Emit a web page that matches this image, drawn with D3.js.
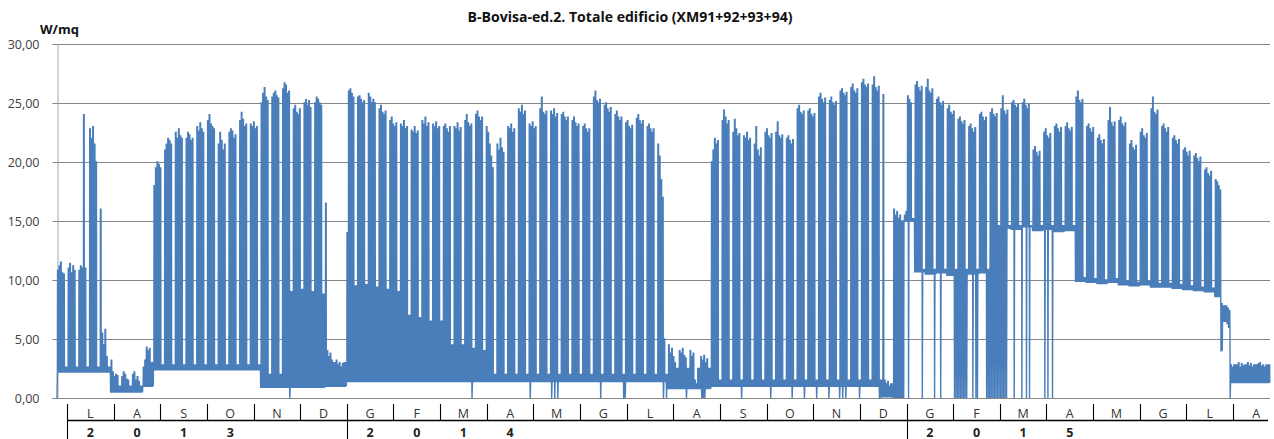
<!DOCTYPE html>
<html><head><meta charset="utf-8">
<script src="https://cdn.jsdelivr.net/npm/d3@7"></script>
<style>body{margin:0;background:#fff;}svg{display:block;}</style>
</head><body>
<svg id="c" width="1274" height="439"></svg>
<script>
// ---------------- data ----------------
const title = "B-Bovisa-ed.2. Totale edificio (XM91+92+93+94)";
const unitLabel = "W/mq";
const yTicks = [0, 5, 10, 15, 20, 25, 30];
const monthLabels = ["L","A","S","O","N","D","G","F","M","A","M","G","L","A","S","O","N","D","G","F","M","A","M","G","L","A"];
const yearLabels = ["2013", "2014", "2015"];
const yearStartMonth = [0, 6, 18];
const firstMonday = "2013-06-24";
const lastDate = "2015-08-25";

// weekday (Mon..Fri) peaks, one row per week starting firstMonday
const weekPeaks = [
[10.8,11.2,11.5,10.6,10.5],[11.0,11.4,10.6,11.2,10.8],[10.8,11.2,11.0,24.0,11.0],[22.8,22.0,23.0,21.5,20.0],
[16.0,5.5,4.5,5.8,3.5],[3.2,2.2,1.8,2.0,1.9],[1.8,2.2,2.0,1.6,1.5],[2.0,2.2,1.5,1.8,1.4],
[2.6,3.2,4.3,4.0,4.2],[18.0,19.5,20.0,19.8,19.5],[21.0,21.5,22.0,21.8,21.5],[22.5,22.0,22.8,22.2,22.0],
[22.0,22.5,22.3,21.8,22.0],[23.0,22.6,23.3,22.8,22.5],[23.5,24.0,23.2,23.0,22.8],[21.5,22.5,21.8,21.0,21.5],
[22.5,22.8,22.6,22.0,22.3],[23.5,24.2,23.6,23.0,23.2],[23.2,23.0,23.4,22.8,23.0],[25.0,25.8,26.3,25.5,25.2],
[25.5,25.8,26.0,25.6,25.4],[26.2,26.7,26.5,25.8,26.0],[24.5,24.8,24.2,24.0,24.5],[25.0,25.3,24.8,25.2,24.6],
[25.0,25.5,25.3,25.0,24.8],[16.5,4.0,3.5,3.8,3.2],[3.2,2.8,3.0,2.6,2.9],[14.0,26.0,26.2,25.8,25.5],
[25.5,25.6,25.3,25.0,25.2],[25.8,25.5,25.0,25.3,25.0],[24.5,24.8,24.2,24.0,24.3],[23.5,23.8,23.2,23.0,23.3],
[23.2,23.0,23.5,22.8,23.0],[22.7,22.5,23.0,22.4,22.6],[23.5,23.2,23.8,23.0,23.3],[23.2,23.0,23.4,22.8,23.0],
[23.0,23.2,22.8,22.5,23.0],[23.0,22.8,23.3,22.6,22.9],[23.5,24.0,23.3,23.0,23.2],[24.0,24.3,23.8,23.5,23.8],
[23.0,22.5,21.5,20.5,19.5],[21.5,21.0,22.0,21.2,20.8],[23.0,22.8,23.2,22.5,22.8],[24.5,24.2,24.8,24.0,24.3],
[23.2,23.0,23.4,22.8,23.0],[24.5,25.5,24.2,24.0,24.3],[24.3,24.0,24.5,23.8,24.1],[24.0,24.2,23.8,23.5,23.8],
[23.5,23.8,23.3,23.0,23.2],[23.0,23.2,22.8,22.5,22.8],[25.5,26.0,25.2,25.0,25.3],[24.8,25.0,24.5,24.2,24.6],
[24.0,24.3,23.8,23.5,23.8],[23.3,23.5,23.0,22.8,23.1],[23.7,24.0,23.5,23.2,23.5],[23.0,23.2,22.8,22.5,22.8],
[21.5,20.5,18.5,17.0,5.0],[4.5,3.8,4.2,3.5,3.0],[4.0,3.8,4.2,3.6,3.4],[4.0,3.5,3.8,1.5,1.2],
[3.5,3.2,3.6,3.0,3.3],[20.0,21.0,22.0,21.5,21.8],[23.5,24.4,23.8,23.2,23.5],[22.5,23.6,22.8,22.2,22.4],
[22.2,22.0,22.5,21.8,22.0],[21.5,23.0,21.0,20.5,21.2],[22.5,22.8,22.2,22.0,22.4],[22.5,23.4,22.2,22.0,22.3],
[22.0,22.2,21.8,21.5,21.9],[24.5,24.8,24.2,24.0,24.3],[24.3,24.5,24.0,23.8,24.1],[25.5,25.8,25.3,25.0,25.4],
[25.2,25.5,25.0,24.8,25.1],[26.0,26.2,25.8,25.6,25.9],[26.3,26.6,26.0,25.8,26.2],[26.7,27.0,26.5,26.3,26.6],
[26.5,27.2,26.3,26.0,26.4],[25.7,1.5,1.2,1.4,1.0],[16.0,15.5,15.8,15.2,15.5],[15.5,15.8,25.6,25.3,25.0],
[26.5,26.8,26.3,26.0,26.4],[26.3,27.0,26.0,25.8,26.2],[25.3,25.5,25.0,24.8,25.1],[24.5,24.8,24.2,24.0,24.3],
[23.6,23.8,23.4,23.2,23.5],[23.0,23.2,22.8,22.5,22.9],[24.0,24.2,23.8,23.5,23.8],[24.2,24.5,24.0,23.8,24.1],
[24.5,25.6,24.3,24.0,24.4],[25.0,25.2,24.8,24.6,24.9],[25.0,25.3,24.8,24.5,24.9],[21.0,21.3,20.8,20.5,20.9],
[22.5,22.8,22.2,22.0,22.4],[23.0,23.2,22.8,22.5,22.9],[23.0,23.3,22.8,22.6,22.9],[25.5,26.0,25.2,25.0,25.3],
[23.0,23.2,22.8,22.5,22.9],[22.0,22.3,21.8,21.5,21.9],[23.5,24.6,23.3,23.0,23.4],[23.5,23.8,23.2,23.0,23.3],
[21.5,21.8,21.2,21.0,21.4],[22.5,22.8,22.2,22.0,22.4],[24.5,25.5,24.2,24.0,24.4],[23.0,23.2,22.8,22.5,22.9],
[22.0,22.2,21.8,21.5,21.9],[21.0,21.2,20.8,20.5,20.9],[20.5,20.7,20.3,20.0,20.4],[19.3,19.5,19.0,18.8,19.2],
[18.5,18.3,18.0,17.6,8.0],[7.6,7.4,7.2,2.8,2.6],[2.8,3.0,2.6,2.9,2.7],[3.0,2.7,2.9,2.6,2.8],
[2.9,3.0,2.7,2.8,2.6],[2.8,2.9,2.7,2.8,2.6]
];
// weekday night minimum, one per week
const weekBase = [
2.2,2.2,2.2,2.2,2.2, 0.5,0.5,0.5, 1.0,
2.4,2.4,2.4,2.4,2.4,2.4,2.4,2.4,2.4,2.4,
0.9,0.9,0.9,0.9,0.9,0.9, 1.0,1.0,
1.4,1.4,1.4,1.4,1.4,1.4,1.4,
1.4,1.4,1.4,1.4,1.4,1.4,1.4,1.4,1.4,1.4,1.4,1.4,1.4,1.4,1.4,1.4,1.4,1.4,1.4,1.4,1.4,1.4,1.4,
0.8,0.8,0.8,0.8,
1.0,1.0,1.0,1.0,1.0,1.0,1.0,1.0,1.0,1.0,1.0,1.0,1.0,1.0,1.0,1.0,
0.1, 0.0, 15.0,
10.7,10.5,10.6,10.4,10.6,10.5,10.6,
14.6,14.4,14.3,14.5,14.2,14.3,14.1,14.2,
9.9,9.8,9.7,9.8,9.6,9.5,9.6,9.4,9.4,9.3,9.2,9.1,9.0,
8.6,
1.3,1.3,1.3,1.3,1.3
];
// weekend minimum, one per week
const weekendLow = [
2.2,2.2,2.2,2.2,2.2, 0.5,0.5,0.5, 1.0,
2.4,2.4,2.4,2.4,2.4,2.4,2.4,2.4,2.4,2.4,
0.9,0.9,0.9,0.9,0.9,0.9, 1.0,1.0,
1.4,1.4,1.4,1.4,1.4,1.4,1.4,
1.4,1.4,1.4,1.4,1.4,1.4,1.4,1.4,1.4,1.4,1.4,1.4,1.4,1.4,1.4,1.4,1.4,1.4,1.4,1.4,1.4,1.4,1.4,
0.8,0.8,0.8,0.8,
1.0,1.0,1.0,1.0,1.0,1.0,1.0,1.0,1.0,1.0,1.0,1.0,1.0,1.0,1.0,1.0,
0.1, 0.0, 15.0,
10.7,10.5,10.6,10.4,10.6,10.5,10.6,
14.6,14.4,14.3,14.5,14.2,14.3,14.1,14.2,
9.9,9.8,9.7,9.8,9.6,9.5,9.6,9.4,9.4,9.3,9.2,9.1,9.0,
6.5,
1.3,1.3,1.3,1.3,1.3
];
// weekend maximum, one per week
const weekendHigh = [
2.6,2.6,2.6,2.6,2.6, 1.0,1.0,1.0, 3.0,
2.8,2.8,2.8,2.8,2.8,2.8,2.8,2.8,2.8,2.8,
2.0,2.0, 9.0,9.2,9.0,8.8, 3.0,3.0,
9.5,9.6,9.4,9.2,9.0, 7.0,6.8,6.5,6.5, 4.5,4.5,4.2,4.0,
2.0,2.0,2.0,2.0,2.0,2.0,2.0,2.0,2.0,2.0,2.0,2.0,2.0,2.0,2.0,2.0,2.0,
2.5,2.5,2.5,2.5,
1.5,1.5,1.5,1.5,1.5,1.5,1.5,1.5,1.5,1.5,1.5,1.5,1.5,1.5,1.5,1.5,
1.2, 15.0, 15.2,
10.9,10.9,10.9,10.9,10.9,10.9,10.9,
14.6,14.6,14.6,14.6,14.6,14.6,14.6,14.6,
10.2,10.1,10.0,10.1,9.9,9.8,9.9,9.7,9.7,9.6,9.5,9.4,9.3,
7.8,
2.8,2.8,2.8,2.8,2.8
];
// days whose night value falls to zero
const zeroDrops = [
"2013-06-24","2013-11-23",
"2014-03-22","2014-04-29","2014-05-13","2014-05-15","2014-05-17","2014-06-14","2014-06-29","2014-06-30",
"2014-07-25","2014-07-27","2014-08-09","2014-08-19","2014-08-20","2014-08-21","2014-09-14","2014-10-03",
"2014-10-17","2014-10-25","2014-11-02","2014-11-10","2014-11-17","2014-11-19","2014-11-21","2014-11-30",
"2014-12-13","2014-12-14",
"2015-01-01","2015-01-10","2015-01-18","2015-01-22","2015-01-31","2015-02-01","2015-02-02","2015-02-03",
"2015-02-04","2015-02-05","2015-02-06","2015-02-07","2015-02-08","2015-02-12","2015-02-14","2015-02-15",
"2015-02-21","2015-02-22","2015-02-23","2015-02-24","2015-02-25","2015-02-26","2015-02-27","2015-02-28",
"2015-03-01","2015-03-02","2015-03-03","2015-03-04","2015-03-05","2015-03-06","2015-03-11","2015-03-16",
"2015-03-19","2015-03-21","2015-03-31","2015-04-02","2015-04-05","2015-07-30"
];
// single days read separately: [date, low, high]
const dayOverrides = [
["2015-07-24", 4.0, 8.0],
["2015-07-27", 6.5, 7.8],
["2015-07-28", 6.3, 7.6],
["2015-07-29", 6.0, 7.4]
];

// ---------------- build series ----------------
const parse = d3.utcParse("%Y-%m-%d");
const fmtDay = d3.utcFormat("%Y-%m-%d");
const t0 = parse(firstMonday), t1 = parse(lastDate);
const nDays = d3.utcDay.count(t0, t1);
const zeroSet = new Set(zeroDrops);
const overrideMap = new Map(dayOverrides.map(o => [o[0], o]));
const DAY = 864e5;
const series = [];
for (let d = 0; d < nDays; d++) {
  const k = Math.floor(d / 7), dow = d % 7;
  const date = d3.utcDay.offset(t0, d);
  const key = fmtDay(date);
  let low, high;
  if (dow < 5) { low = weekBase[k]; high = weekPeaks[k][dow]; }
  else { low = weekendLow[k]; high = weekendHigh[k]; }
  if (overrideMap.has(key)) { low = overrideMap.get(key)[1]; high = overrideMap.get(key)[2]; }
  const start = zeroSet.has(key) ? 0 : low;
  const base = date.getTime();
  series.push({t: new Date(base), v: start});
  series.push({t: new Date(base + 0.25 * DAY), v: low});
  series.push({t: new Date(base + 0.35 * DAY), v: high});
  series.push({t: new Date(base + 0.75 * DAY), v: high});
  series.push({t: new Date(base + 0.85 * DAY), v: low});
}

// ---------------- draw ----------------
const svg = d3.select("#c");
const plotL = 57, plotR = 1270, plotT = 44, plotB = 398;
const x = d3.scaleUtc().domain([t0, t1]).range([plotL, plotR]);
const y = d3.scaleLinear().domain([0, 30]).range([plotB, plotT]);
const it = d3.formatLocale({decimal: ",", thousands: ".", grouping: [3], currency: ["€", ""]});
const fmt = it.format(".2f");
const FONT = "'Open Sans', 'Liberation Sans', sans-serif";

// gridlines
svg.append("g").selectAll("line").data(yTicks.filter(v => v > 0)).join("line")
  .attr("x1", plotL).attr("x2", plotR)
  .attr("y1", v => Math.round(y(v)) + 0.5).attr("y2", v => Math.round(y(v)) + 0.5)
  .attr("stroke", "#868686").attr("stroke-width", 1);

// y axis
const yAxis = svg.append("g").attr("transform", `translate(${plotL + 0.5},0)`)
  .call(d3.axisLeft(y).tickValues(yTicks).tickFormat(fmt).tickSize(5).tickPadding(13));
yAxis.select(".domain").attr("stroke", "#a6a6a6");
yAxis.selectAll(".tick line").attr("stroke", "#868686");
yAxis.selectAll(".tick text").attr("font-family", FONT).attr("font-size", 12.5).attr("fill", "#404040");

// data line
svg.append("path").datum(series)
  .attr("fill", "none").attr("stroke", "#4a7ebb").attr("stroke-width", 1.4)
  .attr("stroke-linejoin", "miter")
  .attr("d", d3.line().x(p => x(p.t)).y(p => y(p.v)));

// x axis line
svg.append("line").attr("x1", 52).attr("x2", plotR).attr("y1", plotB + 0.5).attr("y2", plotB + 0.5)
  .attr("stroke", "#868686");

// month table
const tableL = 67, monthStep = 46.64;
const mx = d3.scaleBand().domain(d3.range(monthLabels.length))
  .range([tableL, tableL + monthStep * monthLabels.length]);
const rowTop = 404, rowMid = 420.5, rowBot = 439;
const tbl = svg.append("g");
tbl.append("line").attr("x1", tableL).attr("x2", plotR - 2).attr("y1", rowMid).attr("y2", rowMid)
  .attr("stroke", "#000").attr("stroke-width", 1.3);
tbl.selectAll("line.mt").data(d3.range(monthLabels.length)).join("line").attr("class", "mt")
  .attr("x1", i => Math.round(mx(i)) + 0.5).attr("x2", i => Math.round(mx(i)) + 0.5)
  .attr("y1", rowTop).attr("y2", i => yearStartMonth.includes(i) ? rowBot : rowMid)
  .attr("stroke", "#000").attr("stroke-width", 1.1);
tbl.selectAll("text.m").data(monthLabels).join("text").attr("class", "m")
  .attr("x", (m, i) => mx(i) + mx.bandwidth() / 2).attr("y", 417.5)
  .attr("text-anchor", "middle").attr("font-family", FONT).attr("font-size", 12.5).attr("fill", "#333")
  .text(m => m);
const yearChars = [];
yearLabels.forEach((yr, j) => yr.split("").forEach((c, q) => yearChars.push({c, i: yearStartMonth[j] + q})));
tbl.selectAll("text.yr").data(yearChars).join("text").attr("class", "yr")
  .attr("x", o => mx(o.i) + mx.bandwidth() / 2).attr("y", 436.5)
  .attr("text-anchor", "middle").attr("font-family", FONT).attr("font-size", 12.5)
  .attr("font-weight", "bold").attr("fill", "#222").text(o => o.c);

// title and unit
svg.append("text").attr("x", 630).attr("y", 22).attr("text-anchor", "middle")
  .attr("font-family", FONT).attr("font-size", 14).attr("font-weight", "bold").attr("fill", "#111")
  .attr("textLength", 325).attr("lengthAdjust", "spacingAndGlyphs")
  .text(title);
svg.append("text").attr("x", 40).attr("y", 34)
  .attr("font-family", FONT).attr("font-size", 13).attr("font-weight", "bold").attr("fill", "#111")
  .text(unitLabel);
</script>
</body></html>
